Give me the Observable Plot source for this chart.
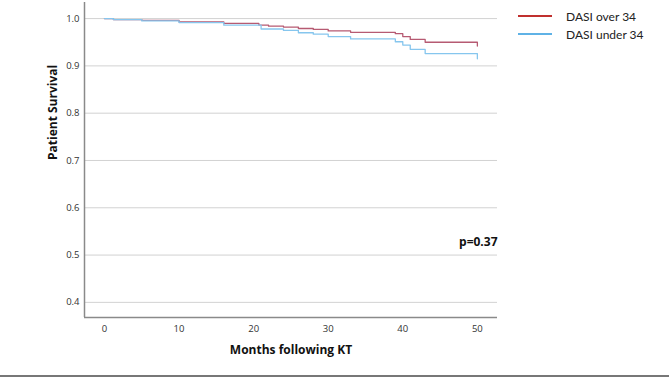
<!DOCTYPE html>
<html>
<head>
<meta charset="utf-8">
<script src="https://cdn.jsdelivr.net/npm/d3@7"></script>
<script src="https://cdn.jsdelivr.net/npm/@observablehq/plot@0.6"></script>
<style>
  html, body { margin: 0; padding: 0; background: #fff; }
  #wrap { position: relative; width: 669px; height: 378px; overflow: hidden; font-family: "Open Sans", sans-serif; }
  #chart { position: absolute; left: 0; top: 0; }
  .legend { position: absolute; left: 518px; top: 7px; font-family: Lato, "Open Sans", sans-serif; font-size: 12px; color: #222; }
  .legend .row { display: flex; align-items: center; height: 18px; }
  .legend .sw { width: 34px; height: 2px; margin-right: 14px; }
  #baseline { position: absolute; left: 0; top: 375px; width: 669px; height: 2px; background: #777; }
</style>
</head>
<body>
<div id="wrap">
  <div id="chart"></div>
  <div class="legend" id="legend"></div>
  <div id="baseline"></div>
</div>
<script>
// Kaplan–Meier patient survival by DASI group
const groups = ["DASI over 34", "DASI under 34"];
const colors = ["#b65a72", "#86c6ee"];
const legendColors = ["#c0302e", "#5fb2e6"];

const overMonths   = [0, 1.2, 5, 10, 16, 20.7, 22, 24, 26, 28, 30, 33, 39, 40, 41, 43, 50, 50];
const overSurvival = [1.0, 0.998, 0.996, 0.993, 0.99, 0.986, 0.984, 0.982, 0.979, 0.977, 0.974, 0.971, 0.968, 0.962, 0.956, 0.950, 0.950, 0.942];

const underMonths   = [0, 1.2, 5, 10, 16, 21, 24, 26, 28, 30, 33, 39, 40, 41, 43, 50, 50];
const underSurvival = [1.0, 0.998, 0.995, 0.9915, 0.986, 0.978, 0.975, 0.970, 0.967, 0.962, 0.957, 0.951, 0.944, 0.935, 0.926, 0.926, 0.915];

const xTicks = [0, 10, 20, 30, 40, 50];
const yTicks = [0.4, 0.5, 0.6, 0.7, 0.8, 0.9, 1.0];
const pLabel = "p=0.37";

const rows = [
  ...overMonths.map((m, i) => ({group: groups[0], month: m, surv: overSurvival[i]})),
  ...underMonths.map((m, i) => ({group: groups[1], month: m, surv: underSurvival[i]}))
];

const xDomain = [-2.68, 52.7];
const yDomain = [0.368, 1.034];

const plot = Plot.plot({
  width: 669,
  height: 378,
  marginLeft: 84,
  marginRight: 172,
  marginTop: 2,
  marginBottom: 61,
  style: {fontFamily: "'Open Sans', sans-serif", fontSize: "9.5px", color: "#333", background: "transparent"},
  x: {domain: xDomain, ticks: xTicks, tickSize: 0, tickPadding: 8, tickFormat: d3.format("d"), label: null},
  y: {domain: yDomain, ticks: yTicks, tickSize: 0, tickPadding: 5, tickFormat: d3.format(".1f"), label: null},
  color: {domain: groups, range: colors},
  marks: [
    Plot.ruleY(yTicks, {stroke: "#d2d2d2", strokeWidth: 1}),
    Plot.ruleX([xDomain[0]], {stroke: "#8a8a8a", strokeWidth: 1.5}),
    Plot.ruleY([yDomain[0]], {stroke: "#8a8a8a", strokeWidth: 1.5}),
    Plot.line(rows, {x: "month", y: "surv", z: "group", stroke: "group", curve: "step-after", strokeWidth: 1.3}),
    Plot.text([pLabel], {frameAnchor: "right", dy: 82, textAnchor: "end", fontWeight: "bold", fontSize: 12, fill: "#111"}),
    Plot.text(["Months following KT"], {frameAnchor: "bottom", dy: 36, fontWeight: "bold", fontSize: 12, fill: "#111"}),
    Plot.text(["Patient Survival"], {frameAnchor: "left", dx: -31, rotate: -90, fontWeight: "bold", fontSize: 12, fill: "#111"})
  ]
});
document.getElementById("chart").appendChild(plot);

const legend = document.getElementById("legend");
groups.forEach((g, i) => {
  const row = document.createElement("div");
  row.className = "row";
  const sw = document.createElement("span");
  sw.className = "sw";
  sw.style.background = legendColors[i];
  const label = document.createElement("span");
  label.textContent = g;
  row.appendChild(sw);
  row.appendChild(label);
  legend.appendChild(row);
});
</script>
</body>
</html>
